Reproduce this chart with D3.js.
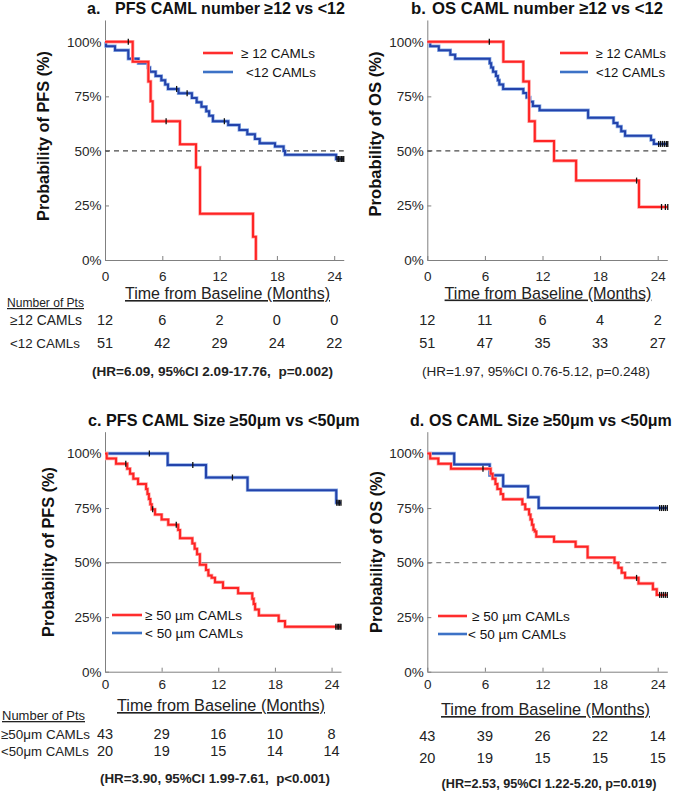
<!DOCTYPE html>
<html><head><meta charset="utf-8">
<script src="https://cdn.jsdelivr.net/npm/d3@7"></script>
<style>
body{margin:0;background:#fff;}
svg{display:block;font-family:"Liberation Sans",Arial,Helvetica,sans-serif;}
</style></head><body>
<svg id="chart" width="675" height="795"></svg>
<script>
// ---------- shared tick data ----------
const monthTicks = [0, 6, 12, 18, 24];
const pctTicks = [0, 0.25, 0.5, 0.75, 1];
const pctLabels = ["0%", "25%", "50%", "75%", "100%"];

// ---------- Panel a: PFS, CAML number ----------
const aHiTimes = [2.9, 4.54, 4.78, 4.99, 7.85, 9.53, 9.95, 15.5, 15.8];
const aHiSurv  = [0.909, 0.818, 0.727, 0.636, 0.53, 0.424, 0.212, 0.106, 0];
const aHiCens  = [2.44, 6.4];
const aLoTimes = [0.1, 1.05, 2.44, 3.5, 4.5, 4.7, 5.3, 5.9, 6.3, 6.6, 7.7, 9.1, 9.6, 10.1, 10.6, 10.9, 11.3, 12.9, 14.06, 14.9, 15.7, 16.2, 17.8, 18.7, 18.85, 24.2];
const aLoSurv  = [0.98, 0.961, 0.922, 0.902, 0.882, 0.863, 0.843, 0.824, 0.804, 0.784, 0.764, 0.743, 0.723, 0.702, 0.682, 0.661, 0.636, 0.619, 0.596, 0.576, 0.555, 0.535, 0.52, 0.50, 0.482, 0.463];
const aLoCens  = [7.5, 8.6, 12.5, 24.3, 24.45, 24.6, 24.75, 24.9, 25.0];
const aRiskHi = [12, 6, 2, 0, 0];
const aRiskLo = [51, 42, 29, 24, 22];

// ---------- Panel b: OS, CAML number ----------
const bHiTimes = [7.92, 10.0, 10.6, 11.2, 13.2, 15.5, 22.05];
const bHiSurv  = [0.909, 0.818, 0.636, 0.545, 0.455, 0.364, 0.243];
const bHiCens  = [6.46, 21.8, 24.4, 24.8, 25.05];
const bLoTimes = [0.3, 1.2, 2.4, 2.9, 6.5, 6.65, 6.85, 7.15, 7.35, 7.5, 7.9, 10.0, 10.35, 10.7, 11.0, 11.7, 16.75, 19.4, 19.8, 20.2, 20.6, 23.3, 23.6];
const bLoSurv  = [0.98, 0.961, 0.941, 0.922, 0.902, 0.882, 0.863, 0.843, 0.824, 0.804, 0.784, 0.765, 0.745, 0.725, 0.706, 0.686, 0.652, 0.628, 0.612, 0.59, 0.569, 0.55, 0.532];
const bLoCens  = [24.1, 24.3, 24.5, 24.7, 24.9, 25.05];
const bRiskHi = [12, 11, 6, 4, 2];
const bRiskLo = [51, 47, 35, 33, 27];

// ---------- Panel c: PFS, CAML size ----------
const cHiTimes = [0.18, 1.17, 2.35, 2.65, 3.0, 3.5, 4.35, 4.5, 4.65, 4.8, 4.95, 5.3, 6.0, 6.7, 7.75, 7.95, 9.25, 9.5, 9.75, 10.05, 10.7, 10.95, 11.3, 11.65, 12.5, 14.1, 15.6, 15.75, 15.9, 16.3, 18.4, 19.07];
const cHiSurv  = [0.977, 0.953, 0.93, 0.907, 0.884, 0.86, 0.837, 0.814, 0.791, 0.767, 0.744, 0.72, 0.697, 0.673, 0.649, 0.612, 0.588, 0.563, 0.538, 0.49, 0.466, 0.441, 0.43, 0.41, 0.384, 0.359, 0.334, 0.31, 0.285, 0.258, 0.232, 0.206];
const cHiCens  = [2.2, 5.05, 7.55, 24.45, 24.6, 24.75, 24.9, 25.0];
const cLoTimes = [6.64, 10.7, 15.1, 24.5];
const cLoSurv  = [0.947, 0.89, 0.832, 0.774];
const cLoCens  = [4.7, 9.3, 13.5, 24.55, 24.7, 24.85, 25.0];
const cRiskHi = [43, 29, 16, 10, 8];
const cRiskLo = [20, 19, 15, 14, 14];

// ---------- Panel d: OS, CAML size ----------
const dHiTimes = [0.3, 1.15, 2.47, 6.6, 6.8, 7.1, 7.3, 7.65, 7.9, 9.9, 10.2, 10.6, 10.75, 10.9, 11.05, 11.2, 11.35, 13.2, 15.45, 16.7, 19.5, 19.9, 20.25, 20.6, 22.0, 23.5, 23.9];
const dHiSurv  = [0.977, 0.953, 0.93, 0.907, 0.884, 0.86, 0.837, 0.814, 0.79, 0.767, 0.744, 0.72, 0.697, 0.673, 0.65, 0.642, 0.619, 0.596, 0.573, 0.523, 0.499, 0.476, 0.453, 0.43, 0.404, 0.378, 0.352];
const dHiCens  = [5.8, 21.8, 24.2, 24.4, 24.6, 24.8, 25.0];
const dLoTimes = [2.8, 6.5, 7.9, 10.5, 11.6];
const dLoSurv  = [0.95, 0.9, 0.85, 0.8, 0.75];
const dLoCens  = [24.2, 24.4, 24.6, 24.8, 25.0];
const dRiskHi = [43, 39, 26, 22, 14];
const dRiskLo = [20, 19, 15, 15, 15];

// ---------- text ----------
const titlesLetter = ["a.", "b.", "c.", "d."];
const titlesText = ["PFS CAML number \u226512 vs <12", "OS CAML number \u226512 vs <12",
  "PFS CAML Size \u226550\u03bcm vs <50\u03bcm", "OS CAML Size \u226550\u03bcm vs <50\u03bcm"];
const legendNumber = ["\u2265 12 CAMLs", "<12 CAMLs"];
const legendSize = ["\u2265 50 \u00b5m CAMLs", "< 50 \u00b5m CAMLs"];
const rowLabelsNumber = ["\u226512 CAMLs", "<12 CAMLs"];
const rowLabelsSize = ["\u226550\u03bcm CAMLs", "<50\u03bcm CAMLs"];
const hrTexts = ["(HR=6.09, 95%CI 2.09-17.76,  p=0.002)", "(HR=1.97, 95%CI 0.76-5.12, p=0.248)",
  "(HR=3.90, 95%CI 1.99-7.61,  p<0.001)", "(HR=2.53, 95%CI 1.22-5.20, p=0.019)"];

const RED = "#ff2424", BLUE = "#2343ab";

const panels = [
  { i:0, lx:87, tx:115, ty:14, tw:230, x0:105, ppm:9.55, y0:260, ylab:"Probability of PFS (%)", ylx:49, yly:136, ylw:170,
    xlabX:227.5, xlabY:299, xlw:205, tickY:280.5, ref:"dash", refColor:"#4a4a4a",
    series:[{T:aHiTimes,S:aHiSurv,C:aHiCens,color:RED},{T:aLoTimes,S:aLoSurv,C:aLoCens,color:BLUE}],
    leg:{x1:203,x2:233,tx:[241,246],w:[74,70],y:[53,72],labels:legendNumber},
    risk:{rows:[aRiskHi,aRiskLo], y:[325,348], labels:rowLabelsNumber, lw:[72,70], labelX:10, headX:7, headY:307, headW:77},
    hr:{x:212.5,y:376,w:241,bold:true} },
  { i:1, lx:411, tx:432, ty:14, tw:231, x0:427.3, ppm:9.6, y0:260, ylab:"Probability of OS (%)", ylx:381, yly:134, ylw:165,
    xlabX:548, xlabY:298.5, xlw:207, tickY:280.5, ref:"dash", refColor:"#4a4a4a",
    series:[{T:bHiTimes,S:bHiSurv,C:bHiCens,color:RED},{T:bLoTimes,S:bLoSurv,C:bLoCens,color:BLUE}],
    leg:{x1:560,x2:588,tx:[596,596],w:[70,69],y:[53,72],labels:legendNumber},
    risk:{rows:[bRiskHi,bRiskLo], y:[325,348]},
    hr:{x:536,y:376,w:228,bold:false} },
  { i:2, lx:88, tx:106, ty:426, tw:254, x0:105, ppm:9.44, y0:671.7, ylab:"Probability of PFS (%)", ylx:54, yly:552, ylw:170,
    xlabX:221, xlabY:711, xlw:208, tickY:689, ref:"solid", refColor:"#8c8c8c",
    series:[{T:cHiTimes,S:cHiSurv,C:cHiCens,color:RED},{T:cLoTimes,S:cLoSurv,C:cLoCens,color:BLUE}],
    leg:{x1:112,x2:142,tx:[145,145],w:[97,98],y:[615,633],labels:legendSize},
    risk:{rows:[cRiskHi,cRiskLo], y:[739,756], labels:rowLabelsSize, lw:[89,88], labelX:1, headX:2, headY:720, headW:83},
    hr:{x:215,y:783,w:230,bold:true} },
  { i:3, lx:410, tx:429, ty:426, tw:243, x0:427.3, ppm:9.6, y0:671.7, ylab:"Probability of OS (%)", ylx:382, yly:552, ylw:162,
    xlabX:545.5, xlabY:715, xlw:209, tickY:689, ref:"dash", refColor:"#8a8a8a",
    series:[{T:dHiTimes,S:dHiSurv,C:dHiCens,color:RED},{T:dLoTimes,S:dLoSurv,C:dLoCens,color:BLUE}],
    leg:{x1:438,x2:467,tx:[472,468],w:[98,98],y:[616,634],labels:legendSize},
    risk:{rows:[dRiskHi,dRiskLo], y:[741,763]},
    hr:{x:549,y:788,w:215,bold:true} }
];

const svg = d3.select("#chart");

function survAt(T, S, t) {
  let s = 1;
  for (let k = 0; k < T.length; k++) if (T[k] <= t) s = S[k];
  return s;
}
// size a text's font so that its natural width equals the target width
function fitFont(sel, w, base) {
  sel.attr("font-size", base);
  const n = sel.node().getComputedTextLength();
  const fs = n > 0 ? base * w / n : base;
  sel.attr("font-size", fs.toFixed(2));
  return fs;
}

panels.forEach(p => {
  const g = svg.append("g");
  const x = d3.scaleLinear().domain([0, 25]).range([p.x0, p.x0 + 25 * p.ppm]);
  const y = d3.scaleLinear().domain([0, 1.1]).range([p.y0, p.y0 - 1.1 * 218.2]);

  // axes
  const xAxis = d3.axisBottom(x).tickValues(monthTicks).tickSizeInner(-4).tickSizeOuter(0).tickPadding(0).tickFormat(d3.format("d"));
  const gx = g.append("g").attr("transform", `translate(0,${p.y0})`).call(xAxis);
  gx.select(".domain").attr("stroke", "#808080");
  gx.selectAll(".tick line").attr("stroke", "#808080");
  gx.selectAll(".tick text").attr("y", p.tickY - p.y0).attr("dy", 0)
    .attr("font-size", 13.5).attr("fill", "#262626").attr("font-family", "Liberation Sans, Arial, sans-serif");

  const yAxis = d3.axisLeft(y).tickValues(pctTicks).tickSizeInner(-4).tickSizeOuter(0).tickPadding(4)
    .tickFormat(d => pctLabels[pctTicks.indexOf(d)]);
  const gy = g.append("g").attr("transform", `translate(${p.x0},0)`).call(yAxis);
  gy.select(".domain").attr("stroke", "#808080");
  gy.selectAll(".tick line").attr("stroke", "#808080");
  gy.selectAll(".tick text").attr("font-size", 13.5).attr("fill", "#262626").attr("x", -3.5)
    .attr("font-family", "Liberation Sans, Arial, sans-serif");

  // 50% reference line
  g.append("line").attr("x1", x(0)).attr("x2", x(25)).attr("y1", y(0.5)).attr("y2", y(0.5))
    .attr("stroke", p.refColor).attr("stroke-width", 1.1)
    .attr("stroke-dasharray", p.ref === "dash" ? "5,4" : null);

  // curves
  const line = d3.line().x(d => x(d[0])).y(d => y(d[1])).curve(d3.curveStepAfter);
  const order = [1, 0];
  order.forEach(si => {
    const s = p.series[si];
    const pts = [[0, 1]];
    s.T.forEach((t, k) => pts.push([t, s.S[k]]));
    const tEnd = Math.max(s.T[s.T.length - 1], d3.max(s.C));
    pts.push([tEnd, s.S[s.S.length - 1]]);
    const halo = s.color === RED ? "#ffa3a3" : "#8eaee6";
    g.append("path").attr("d", line(pts)).attr("fill", "none").attr("stroke", halo).attr("stroke-width", 3.4);
    g.append("path").attr("d", line(pts)).attr("fill", "none").attr("stroke", s.color).attr("stroke-width", 2);
  });
  order.forEach(si => {
    const s = p.series[si];
    g.selectAll(null).data(s.C).enter().append("line")
      .attr("x1", d => x(d)).attr("x2", d => x(d))
      .attr("y1", d => y(survAt(s.T, s.S, d)) - 3).attr("y2", d => y(survAt(s.T, s.S, d)) + 3)
      .attr("stroke", "#111").attr("stroke-width", 1.3);
  });

  // titles
  const tSel = g.append("text").attr("x", p.tx).attr("y", p.ty).attr("font-weight", "bold")
    .attr("fill", "#111").text(titlesText[p.i]);
  const tfs = fitFont(tSel, p.tw, 16);
  g.append("text").attr("x", p.lx).attr("y", p.ty).attr("font-size", tfs.toFixed(2)).attr("font-weight", "bold")
    .attr("fill", "#111").text(titlesLetter[p.i]);

  // y label
  fitFont(g.append("text").attr("transform", `translate(${p.ylx},${p.yly}) rotate(-90)`)
    .attr("text-anchor", "middle").attr("font-weight", "bold").attr("fill", "#111")
    .text(p.ylab), p.ylw, 16);

  // x label
  fitFont(g.append("text").attr("x", p.xlabX).attr("y", p.xlabY).attr("text-anchor", "middle")
    .attr("fill", "#222").style("text-decoration", "underline")
    .text("Time from Baseline (Months)"), p.xlw, 16);

  // legend
  p.series.forEach((s, k) => {
    g.append("line").attr("x1", p.leg.x1).attr("x2", p.leg.x2).attr("y1", p.leg.y[k]).attr("y2", p.leg.y[k])
      .attr("stroke", k === 0 ? "#ff2d2d" : "#3d72c6").attr("stroke-width", 2.6);
    fitFont(g.append("text").attr("x", p.leg.tx[k]).attr("y", p.leg.y[k] + 5).attr("fill", "#111")
      .text(p.leg.labels[k]), p.leg.w[k], 14);
  });

  // risk table
  if (p.risk.labels) {
    fitFont(g.append("text").attr("x", p.risk.headX).attr("y", p.risk.headY).attr("fill", "#222")
      .style("text-decoration", "underline").text("Number of Pts"), p.risk.headW, 14);
    p.risk.labels.forEach((lab, k) => {
      fitFont(g.append("text").attr("x", p.risk.labelX).attr("y", p.risk.y[k]).attr("fill", "#222").text(lab), p.risk.lw[k], 14);
    });
  }
  p.risk.rows.forEach((row, k) => {
    g.selectAll(null).data(row).enter().append("text")
      .attr("x", (d, j) => x(monthTicks[j])).attr("y", p.risk.y[k]).attr("text-anchor", "middle")
      .attr("font-size", 14.5).attr("fill", "#222").text(d => d);
  });

  // HR text
  fitFont(g.append("text").attr("x", p.hr.x).attr("y", p.hr.y).attr("text-anchor", "middle")
    .attr("font-weight", p.hr.bold ? "bold" : "normal").attr("fill", "#222")
    .style("white-space", "pre").text(hrTexts[p.i]), p.hr.w, 14);
});
</script>
</body></html>
